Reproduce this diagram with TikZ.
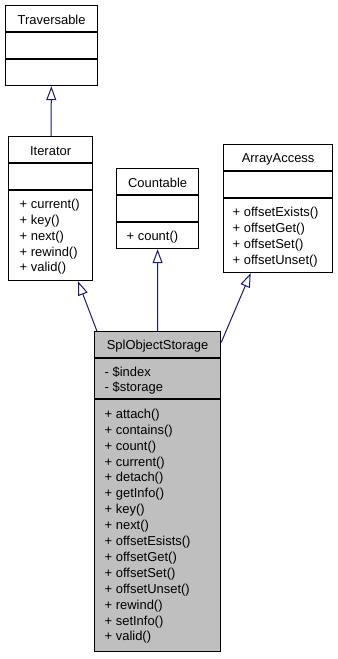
\documentclass[tikz,border=0pt]{standalone}
\usepackage{fontspec}
\setmainfont{Liberation Sans}
\usepackage{xcolor}
\usetikzlibrary{arrows.meta, positioning}

\definecolor{edgeblue}{HTML}{191970}
\definecolor{splgray}{HTML}{BFBFBF}

\tikzset{
  classbox/.style={draw=black, line width=1.2bp, fill=white, anchor=north west, inner sep=0pt},
  classname/.style={inner sep=0pt},
  member/.style={anchor=west, inner sep=0pt},
  inherit/.style={draw=edgeblue, line width=1bp,
    -{Triangle[open, length=14bp, width=10bp, fill=white]}},
}

\begin{document}
\begin{tikzpicture}[x=1bp, y=-1bp, font=\fontsize{13}{16}\selectfont]
\useasboundingbox (0,0) rectangle (337,659);

% Traversable
\node[classbox, minimum width=92bp, minimum height=80bp] (trav) at (5,5) {};
\draw[line width=1.2bp] (trav.west |- 0,32) -- (trav.east |- 0,32);
\draw[line width=1.2bp] (trav.west |- 0,59) -- (trav.east |- 0,59);
\node[classname] (travname) at (trav.north |- 0,20) {Traversable};

% Iterator
\node[classbox, minimum width=84bp, minimum height=144bp] (iter) at (8,136) {};
\draw[line width=1.2bp] (iter.west |- 0,163) -- (iter.east |- 0,163);
\draw[line width=1.2bp] (iter.west |- 0,190) -- (iter.east |- 0,190);
\node[classname] (itername) at (iter.north |- 0,151) {Iterator};
\foreach \m [count=\i] in {current,key,next,rewind,valid}
  \node[member] (iterop\i) at (19.5,{205+15.9*(\i-1)}) {+ \m()};

% Countable
\node[classbox, minimum width=82bp, minimum height=80bp] (count) at (116,168) {};
\draw[line width=1.2bp] (count.west |- 0,195) -- (count.east |- 0,195);
\draw[line width=1.2bp] (count.west |- 0,222) -- (count.east |- 0,222);
\node[classname] (countname) at (count.north |- 0,183) {Countable};
\node[member] (countop1) at (126.5,237) {+ count()};

% ArrayAccess
\node[classbox, minimum width=109bp, minimum height=128bp] (arracc) at (223,144) {};
\draw[line width=1.2bp] (arracc.west |- 0,171) -- (arracc.east |- 0,171);
\draw[line width=1.2bp] (arracc.west |- 0,198) -- (arracc.east |- 0,198);
\node[classname] (arraccname) at (arracc.north |- 0,159) {ArrayAccess};
\foreach \m [count=\i] in {offsetExists,offsetGet,offsetSet,offsetUnset}
  \node[member] (arraccop\i) at (232.5,{213+15.9*(\i-1)}) {+ \m()};

% SplObjectStorage
\node[classbox, fill=splgray, minimum width=126bp, minimum height=320bp] (spl) at (94,331) {};
\draw[line width=1.2bp] (spl.west |- 0,358) -- (spl.east |- 0,358);
\draw[line width=1.2bp] (spl.west |- 0,399) -- (spl.east |- 0,399);
\node[classname] (splname) at (spl.north |- 0,346) {SplObjectStorage};
\foreach \a [count=\i] in {index,storage}
  \node[member] (splattr\i) at (104.5,{372+16.5*(\i-1)}) {- \$\a};
\foreach \m [count=\i] in {attach,contains,count,current,detach,getInfo,key,next,
    offsetEsists,offsetGet,offsetSet,offsetUnset,rewind,setInfo,valid}
  \node[member] (splop\i) at (104.5,{415+15.9*(\i-1)}) {+ \m()};

% Inheritance
\draw[inherit] (iter) -- (trav);
\draw[inherit] (spl) -- (iter);
\draw[inherit] (spl) -- (count);
\draw[inherit] (spl) -- (arracc);

\end{tikzpicture}
\end{document}
